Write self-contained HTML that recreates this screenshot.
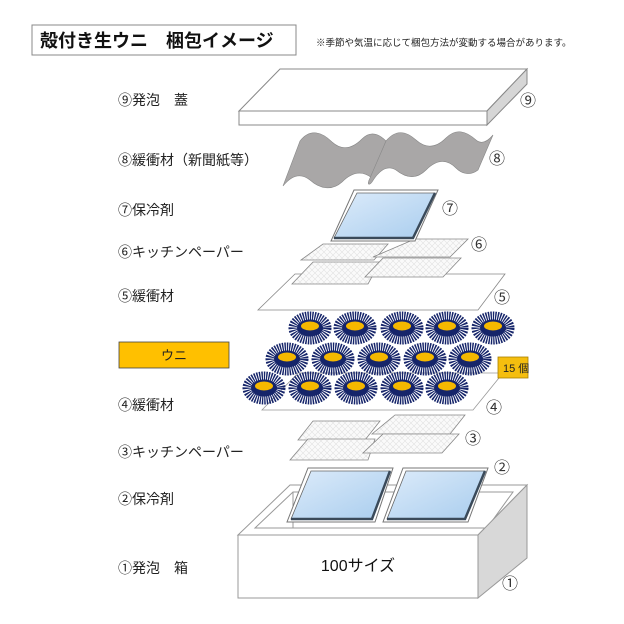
<!DOCTYPE html>
<html><head><meta charset="utf-8"><style>
body{margin:0;background:#fff;}
svg{display:block;font-family:"Liberation Sans","Noto Sans CJK JP",sans-serif;}
</style></head><body>
<svg width="624" height="624" viewBox="0 0 624 624" xmlns="http://www.w3.org/2000/svg">
<defs>
<linearGradient id="bl" x1="0" y1="0" x2="1" y2="1"><stop offset="0" stop-color="#dcebfa"/><stop offset="1" stop-color="#a9cdee"/></linearGradient>
<pattern id="mesh" width="6" height="6" patternUnits="userSpaceOnUse"><rect width="6" height="6" fill="#fafafa"/><path d="M0,0L6,6M6,0L0,6" stroke="#e2e2e2" stroke-width="0.6"/></pattern>
<symbol id="u" viewBox="-23 -17 46 34" width="46" height="34">
<ellipse cx="0" cy="0" rx="16" ry="11" fill="none" stroke="#16256a" stroke-width="11" stroke-dasharray="1.3 0.9"/>
<ellipse cx="0" cy="0" rx="13" ry="8.5" fill="#16256a"/>
<ellipse cx="0" cy="-2" rx="9" ry="4.5" fill="#f5b800"/>
</symbol>
</defs>
<rect width="624" height="624" fill="#fff"/>
<rect x="32" y="25" width="264" height="30" fill="#fff" stroke="#888" stroke-width="1"/>
<text x="40" y="47" font-size="18" font-weight="bold" fill="#111">殻付き生ウニ　梱包イメージ</text>
<text x="316" y="46" font-size="9.5" fill="#222">※季節や気温に応じて梱包方法が変動する場合があります。</text>
<g font-size="14" fill="#222">
<text x="118" y="105">⑨発泡　蓋</text>
<text x="118" y="165">⑧緩衝材（新聞紙等）</text>
<text x="118" y="215">⑦保冷剤</text>
<text x="118" y="257">⑥キッチンペーパー</text>
<text x="118" y="301">⑤緩衝材</text>
<text x="118" y="410">④緩衝材</text>
<text x="118" y="457">③キッチンペーパー</text>
<text x="118" y="504">②保冷剤</text>
<text x="118" y="573">①発泡　箱</text>
</g>
<polygon points="280,69 527,69 487,111 239,111" fill="#fff" stroke="#888"/>
<polygon points="239,111 487,111 487,125 239,125" fill="#fff" stroke="#888"/>
<polygon points="487,111 527,69 527,84 487,125" fill="#d6d6d6" stroke="#888"/>
<path d="M300,141 C310,128 322,132 332,142 C342,151 352,149 362,139 C370,131 378,133 386,141 L372,178 C362,170 352,172 342,182 C332,191 320,189 310,180 C300,172 291,176 283,186 Z" fill="#a9a7a7" stroke="#888" stroke-width="0.6"/>
<path d="M386,141 C396,129 406,131 416,140 C426,149 436,148 446,138 C456,128 466,131 476,140 C482,145 488,141 493,135 L478,170 C470,176 462,174 456,168 C446,158 436,160 426,170 C416,180 406,178 396,170 C386,164 378,172 372,182 C370,185 366,186 370,178 Z" fill="#a9a7a7" stroke="#888" stroke-width="0.6"/>
<polygon points="323,244 388,244 374,260 301,260" fill="url(#mesh)" stroke="#888" stroke-width="0.8"/>
<polygon points="415,239 468,239 450,257 373,257" fill="url(#mesh)" stroke="#888" stroke-width="0.8"/>
<polygon points="354,190 438,190 415,241 331,241" fill="#fff" stroke="#777"/>
<polygon points="357,193 435,193 413,238 334,238" fill="url(#bl)" stroke="#666" stroke-width="0.8"/>
<polyline points="435,193 413,238 334,238" fill="none" stroke="#3a4a5a" stroke-width="2.5"/>
<polygon points="295,274 505,274 478,310 258,310" fill="#fff" stroke="#888" stroke-width="0.8"/>
<polygon points="313,262 380,262 368,284 292,284" fill="url(#mesh)" stroke="#888" stroke-width="0.8"/>
<polygon points="383,258 461,258 443,277 365,277" fill="url(#mesh)" stroke="#888" stroke-width="0.8"/>
<polygon points="298,373 503,373 473,410 262,410" fill="#fff" stroke="#999" stroke-width="0.8"/>
<g>
<use href="#u" x="287" y="311"/><use href="#u" x="332" y="311"/><use href="#u" x="379" y="311"/><use href="#u" x="424" y="311"/><use href="#u" x="470" y="311"/>
<use href="#u" x="264" y="342"/><use href="#u" x="310" y="342"/><use href="#u" x="356" y="342"/><use href="#u" x="402" y="342"/><use href="#u" x="447" y="342"/>
<use href="#u" x="241" y="371"/><use href="#u" x="287" y="371"/><use href="#u" x="333" y="371"/><use href="#u" x="379" y="371"/><use href="#u" x="424" y="371"/>
</g>
<rect x="498" y="357" width="30" height="21" fill="#f5be0f" stroke="#a88000" stroke-width="0.8"/>
<text x="503" y="372" font-size="11" fill="#222">15 個</text>
<rect x="119" y="342" width="110" height="26" fill="#ffc000" stroke="#444" stroke-width="0.8"/>
<text x="174" y="360" font-size="13" fill="#222" text-anchor="middle">ウニ</text>
<polygon points="313,421 380,421 365,440 298,440" fill="url(#mesh)" stroke="#888" stroke-width="0.8"/>
<polygon points="395,415 465,415 450,434 372,434" fill="url(#mesh)" stroke="#888" stroke-width="0.8"/>
<polygon points="308,439 375,439 368,460 290,460" fill="url(#mesh)" stroke="#888" stroke-width="0.8"/>
<polygon points="383,434 459,434 442,453 363,453" fill="url(#mesh)" stroke="#888" stroke-width="0.8"/>
<polygon points="238,535 290,485 527,485 478,535" fill="#fff" stroke="#999"/>
<polygon points="293,492 513,492 487,528 255,528" fill="#fff" stroke="#999"/>
<line x1="293" y1="492" x2="293" y2="528" stroke="#999"/>
<polygon points="238,535 478,535 478,598 238,598" fill="#fff" stroke="#999"/>
<polygon points="478,535 527,485 527,558 478,598" fill="#d8d8d8" stroke="#999"/>
<text x="358" y="571" font-size="16" fill="#111" text-anchor="middle">100サイズ</text>
<polygon points="308,468 393,468 375,522 287,522" fill="#fff" stroke="#777"/>
<polygon points="311,471 390,471 372,519 291,519" fill="url(#bl)" stroke="#666" stroke-width="0.8"/>
<polyline points="390,471 372,519 291,519" fill="none" stroke="#3a4a5a" stroke-width="2.5"/>
<polygon points="403,468 488,468 468,522 383,522" fill="#fff" stroke="#777"/>
<polygon points="406,471 485,471 465,519 387,519" fill="url(#bl)" stroke="#666" stroke-width="0.8"/>
<polyline points="485,471 465,519 387,519" fill="none" stroke="#3a4a5a" stroke-width="2.5"/>
<g font-size="16" fill="#333">
<text x="520" y="106">⑨</text>
<text x="489" y="164">⑧</text>
<text x="442" y="214">⑦</text>
<text x="471" y="250">⑥</text>
<text x="494" y="303">⑤</text>
<text x="486" y="413">④</text>
<text x="465" y="444">③</text>
<text x="494" y="473">②</text>
<text x="502" y="589">①</text>
</g>
</svg>
</body></html>
